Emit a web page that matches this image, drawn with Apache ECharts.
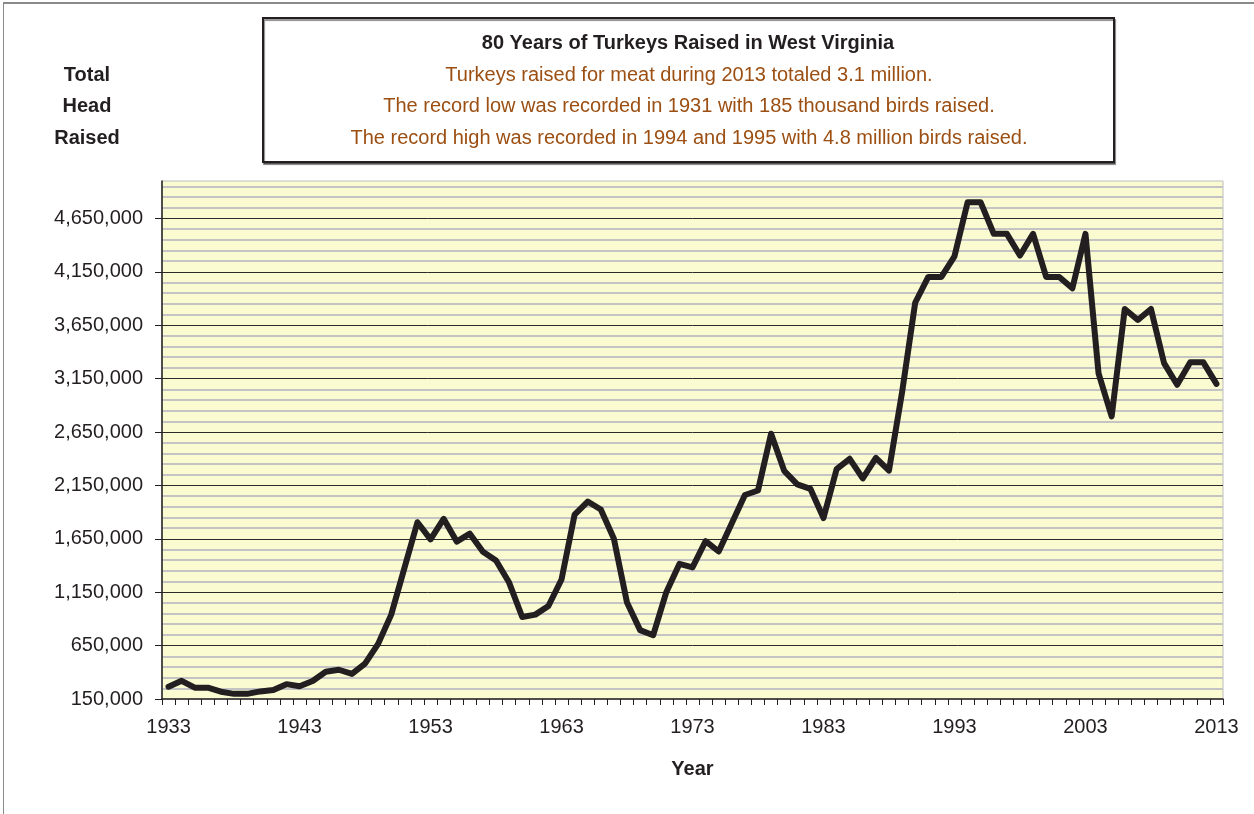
<!DOCTYPE html>
<html>
<head>
<meta charset="utf-8">
<script src="https://cdn.jsdelivr.net/npm/echarts@6/dist/echarts.min.js"></script>
<style>
  html, body { margin: 0; padding: 0; background: #ffffff; }
  #chart { position: absolute; left: 0; top: 0; width: 1254px; height: 814px; }
  #frame { position: absolute; left: 3px; top: 2px; width: 1260px; height: 820px;
           border-top: 2px solid #8a8a8a; border-left: 1px solid #8a8a8a; pointer-events: none; }
</style>
</head>
<body>
<div id="chart"></div>
<div id="frame"></div>
<script>
const years = [];
for (let y = 1933; y <= 2013; y++) years.push(String(y));

const headRaised = [
  265000, 320000, 256000, 256000, 218000, 198000, 198000, 221000, 234000, 289000,
  269000, 318000, 405000, 424000, 385000, 482000, 666000, 940000, 1373000, 1805000,
  1644000, 1837000, 1624000, 1698000, 1528000, 1447000, 1240000, 918000, 940000, 1021000,
  1269000, 1876000, 1999000, 1924000, 1650000, 1053000, 795000, 747000, 1150000, 1415000,
  1382000, 1628000, 1531000, 1795000, 2060000, 2102000, 2634000, 2286000, 2160000, 2118000,
  1844000, 2302000, 2399000, 2215000, 2408000, 2289000, 3021000, 3860000, 4102000, 4102000,
  4295000, 4800000, 4800000, 4505000, 4505000, 4302000, 4505000, 4102000, 4102000, 3995000,
  4505000, 3199000, 2795000, 3802000, 3699000, 3802000, 3295000, 3092000, 3302000, 3302000,
  3100000
];

const yTickLabels = [150000, 650000, 1150000, 1650000, 2150000, 2650000, 3150000, 3650000, 4150000, 4650000];

const titleText = '80 Years of Turkeys Raised in West Virginia';
const noteLines = [
  'Turkeys raised for meat during 2013 totaled 3.1 million.',
  'The record low was recorded in 1931 with 185 thousand birds raised.',
  'The record high was recorded in 1994 and 1995 with 4.8 million birds raised.'
];
const yTitleLines = ['Total', 'Head', 'Raised'];

const FONT = 'Arial, "Liberation Sans", sans-serif';
const Y_MIN = 150000, Y_MAX = 5000000, Y_STEP = 50000;

function fmt(v) { return v.toString().replace(/\B(?=(\d{3})+(?!\d))/g, ','); }
function isMajor(v) { return yTickLabels.indexOf(v) >= 0; }

// minor grid every 100k (ticks every 50k); majors drawn by the overlay axis
const minorColors = [];
for (let i = 0; i < 10; i++) {
  minorColors.push(i % 2 === 0 && i !== 0 ? '#c4c4c4' : 'rgba(0,0,0,0)');
}

const chart = echarts.init(document.getElementById('chart'), null, { renderer: 'canvas' });

const graphics = [
  {
    type: 'rect',
    shape: { x: 263, y: 18, width: 851, height: 144 },
    style: { fill: '#ffffff', stroke: '#231f20', lineWidth: 2,
             shadowColor: 'rgba(0,0,0,0.45)', shadowOffsetX: 1, shadowOffsetY: 2, shadowBlur: 1 },
    z: 10
  },
  {
    type: 'text', x: 688, y: 43, z: 11,
    style: { text: titleText, font: 'bold 20px ' + FONT, fill: '#231f20', textAlign: 'center', textVerticalAlign: 'middle' }
  }
];
noteLines.forEach(function (t, i) {
  graphics.push({
    type: 'text', x: 689, y: 75 + i * 31.5, z: 11,
    style: { text: t, font: '20px ' + FONT, fill: '#9c4f12', textAlign: 'center', textVerticalAlign: 'middle' }
  });
});
yTitleLines.forEach(function (t, i) {
  graphics.push({
    type: 'text', x: 87, y: 75 + i * 31.5, z: 11,
    style: { text: t, font: 'bold 20px ' + FONT, fill: '#231f20', textAlign: 'center', textVerticalAlign: 'middle' }
  });
});

chart.setOption({
  animation: false,
  backgroundColor: 'transparent',
  textStyle: { fontFamily: FONT },
  grid: {
    left: 162, right: 31, top: 181, bottom: 115,
    show: true, backgroundColor: '#fbfbd2', borderColor: '#bdbdbd', borderWidth: 1,
    containLabel: false
  },
  graphic: graphics,
  xAxis: {
    type: 'category',
    data: years,
    boundaryGap: true,
    name: 'Year',
    nameLocation: 'middle',
    nameGap: 60,
    nameTextStyle: { fontFamily: FONT, fontSize: 20, fontWeight: 'bold', color: '#231f20' },
    axisLine: { show: true, lineStyle: { color: '#231f20', width: 1.5 } },
    axisTick: { show: true, interval: 0, length: 6, lineStyle: { color: '#231f20', width: 1 } },
    axisLabel: { interval: 9, margin: 18, fontFamily: FONT, fontSize: 20, color: '#231f20' },
    splitLine: { show: false }
  },
  yAxis: [
    {
      type: 'value',
      min: Y_MIN, max: Y_MAX, interval: Y_STEP,
      axisLine: { show: true, lineStyle: { color: '#231f20', width: 1.5 } },
      axisTick: { show: false },
      axisLabel: {
        margin: 19, fontFamily: FONT, fontSize: 20, color: '#231f20',
        formatter: function (v) { return isMajor(v) ? fmt(v) : ''; }
      },
      splitLine: { show: true, showMinLine: true, showMaxLine: true,
                   lineStyle: { color: minorColors, width: 2 } }
    },
    {
      type: 'value',
      position: 'left',
      min: Y_MIN, max: Y_MAX, interval: Y_STEP,
      axisLine: { show: false },
      axisTick: { show: true, length: 7, customValues: yTickLabels, lineStyle: { color: '#231f20', width: 1 } },
      axisLabel: { show: false },
      splitLine: { show: true, showMinLine: false, showMaxLine: true,
                   lineStyle: { color: '#2b2b2b', width: 1 } }
    }
  ],
  series: [
    {
      type: 'line',
      data: headRaised,
      yAxisIndex: 0,
      symbol: 'none',
      smooth: false,
      lineStyle: { color: '#231f20', width: 6, join: 'round', cap: 'round' },
      z: 5
    }
  ]
});
</script>
</body>
</html>
